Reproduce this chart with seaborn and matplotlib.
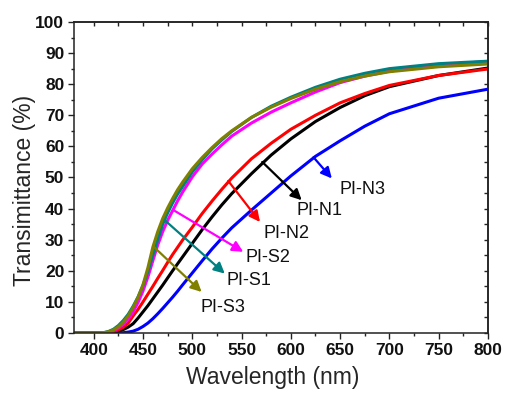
import pandas as pd
import matplotlib
matplotlib.use("Agg")
import matplotlib.pyplot as plt
from matplotlib.ticker import MultipleLocator
from matplotlib.font_manager import FontProperties
import seaborn as sns

# transmittance spectra
wavelength = [380, 400, 410, 415, 420, 425, 430, 435, 440, 445, 450, 455, 460, 465, 470, 475,
              480, 485, 490, 500, 510, 520, 530, 540, 560, 580, 600, 625, 650, 675, 700, 750, 800]
pi_n3 = [0, 0, 0, 0, 0, 0, 0.1, 0.3, 0.6, 1.2, 2.1, 3.2, 4.6, 6.2, 7.9, 9.7,
         11.5, 13.4, 15.4, 19.3, 23.2, 27.0, 30.5, 33.8, 39.5, 45.0, 50.5, 56.8, 61.8, 66.5, 70.5, 75.5, 78.4]
pi_n1 = [0, 0, 0, 0.1, 0.3, 0.6, 1.1, 1.9, 3.0, 4.8, 6.8, 8.8, 11.0, 13.2, 15.4, 17.7,
         20.0, 22.2, 24.4, 28.8, 33.2, 37.3, 41.2, 44.8, 51.2, 57.2, 62.4, 68.0, 72.5, 76.3, 79.2, 82.8, 85.2]
pi_n2 = [0, 0, 0, 0.2, 0.5, 1.0, 1.8, 3.2, 5.5, 7.6, 10.0, 12.5, 15.0, 17.6, 20.1, 22.7,
         25.2, 27.5, 29.8, 34.0, 38.4, 42.4, 46.2, 49.8, 56.0, 61.0, 65.5, 70.0, 74.0, 77.0, 79.6, 82.8, 84.9]
pi_s2 = [0, 0, 0, 0.3, 0.8, 1.6, 2.8, 4.5, 6.8, 9.8, 13.5, 18.0, 23.2, 28.3, 32.6, 36.2,
         39.3, 42.4, 45.2, 50.2, 54.3, 57.5, 60.5, 63.3, 67.5, 71.0, 74.0, 77.5, 80.5, 82.6, 84.2, 86.2, 87.3]
pi_s1 = [0, 0, 0.1, 0.5, 1.2, 2.4, 4.0, 6.0, 8.6, 11.6, 15.3, 19.8, 25.0, 30.0, 35.0, 38.6,
         41.8, 44.6, 47.0, 51.8, 55.7, 59.2, 62.1, 64.8, 69.3, 72.9, 75.8, 79.0, 81.6, 83.5, 85.0, 86.6, 87.4]
pi_s3 = [0, 0, 0.1, 0.4, 1.0, 2.0, 3.5, 5.5, 8.2, 11.5, 15.5, 21.0, 27.6, 32.6, 36.8, 40.2,
         43.2, 46.0, 48.4, 52.8, 56.4, 59.6, 62.5, 65.0, 69.3, 72.6, 75.4, 78.4, 80.8, 82.6, 84.0, 85.6, 86.5]

samples = ["PI-N3", "PI-N1", "PI-N2", "PI-S2", "PI-S1", "PI-S3"]
series = [pi_n3, pi_n1, pi_n2, pi_s2, pi_s1, pi_s3]
colors = ["#0000FF", "#000000", "#FF0000", "#FF00FF", "#008080", "#808000"]

x_ticks = [400, 450, 500, 550, 600, 650, 700, 750, 800]
y_ticks = [0, 10, 20, 30, 40, 50, 60, 70, 80, 90, 100]

# arrow annotations (start on curve, tip, label centre)
arrow_base = [(623, 56.5), (571, 55.0), (536.5, 48.9), (481, 39.5), (472, 36.3), (460.3, 27.9)]
arrow_tip = [(641.6, 49.7), (611, 42.7), (568.7, 35.7), (551.7, 26.1), (533, 19.1), (509.5, 13.2)]
label_pos = [(673, 46.2), (629, 39.3), (596, 31.9), (577, 24.3), (557.5, 17.0), (531, 8.1)]

df = pd.concat(
    [pd.DataFrame({"wavelength": wavelength, "T": vals, "sample": name})
     for name, vals in zip(samples, series)],
    ignore_index=True,
)

sns.set_style("ticks")
plt.rcParams["font.family"] = ["Liberation Sans", "DejaVu Sans"]
bold_font = FontProperties(family="Liberation Sans", weight="bold", size=12.5)

fig = plt.figure(figsize=(5.05, 3.94), dpi=100)
ax = fig.add_axes([0.1465, 0.1548, 0.8198, 0.7894])

sns.lineplot(data=df, x="wavelength", y="T", hue="sample", hue_order=samples,
             palette=colors, linewidth=2.2, estimator=None, sort=False,
             legend=False, ax=ax)

for name, c, b, t, p in zip(samples, colors, arrow_base, arrow_tip, label_pos):
    ax.annotate("", xy=t, xytext=b,
                arrowprops=dict(arrowstyle="-|>", color=c, lw=1.6,
                                mutation_scale=16, shrinkA=0, shrinkB=0))
    ax.text(p[0], p[1], name, ha="center", va="center", fontsize=13, color="#111111")

ax.set_xlim(380, 800)
ax.set_ylim(0, 100)
ax.set_xticks(x_ticks)
ax.set_xticklabels([str(v) for v in x_ticks], fontproperties=bold_font)
ax.set_yticks(y_ticks)
ax.set_yticklabels([str(v) for v in y_ticks], fontproperties=bold_font)
ax.xaxis.set_minor_locator(MultipleLocator(25))
ax.yaxis.set_minor_locator(MultipleLocator(5))
ax.tick_params(which="both", direction="out", width=1, color="#222222", labelcolor="#111111")
ax.tick_params(which="major", length=4, pad=3)
ax.tick_params(which="minor", length=2)

top = ax.secondary_xaxis("top")
top.xaxis.set_major_locator(MultipleLocator(25))
top.tick_params(direction="in", length=3, width=1, labeltop=False, color="#222222")
right = ax.secondary_yaxis("right")
right.yaxis.set_major_locator(MultipleLocator(5))
right.tick_params(direction="in", length=3, width=1, labelright=False, color="#222222")

for sp in list(ax.spines.values()) + [top.spines["top"], right.spines["right"]]:
    sp.set_linewidth(1.1)
    sp.set_color("#222222")

ax.set_xlabel("Wavelength (nm)", fontsize=16.5)
ax.xaxis.set_label_coords(0.4795, -0.105)
ax.set_ylabel("Transimittance (%)", fontsize=16.5)
ax.yaxis.set_label_coords(-0.092, 0.46)

fig.savefig("out.png", dpi=100)
